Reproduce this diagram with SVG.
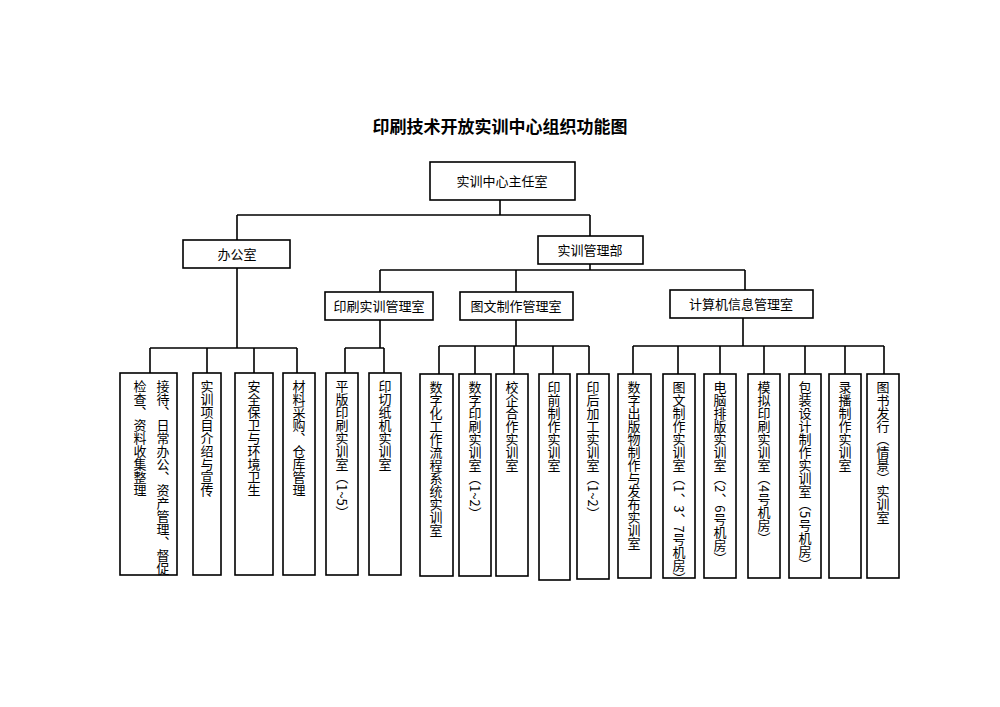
<svg xmlns="http://www.w3.org/2000/svg" width="1000" height="707" viewBox="0 0 1000 707">
<style>
rect{fill:#fff;stroke:#000;stroke-width:1.6}
.c path{fill:none;stroke:#000;stroke-width:1.6}
text{font-family:"Noto Sans CJK SC","Liberation Sans",sans-serif;font-size:13px;fill:#000}
.h{text-anchor:middle}
.v{writing-mode:vertical-rl;text-orientation:mixed}
.t{font-size:17px;font-weight:bold;text-anchor:middle}
</style>
<rect x="0" y="0" width="1000" height="707" style="stroke:none"/>
<text class="t" x="500" y="133">印刷技术开放实训中心组织功能图</text>
<g class="c">
<path d="M500 200V215M237 215H590M237 215V240M590 215V236"/>
<path d="M590 264V270M380 270H745M380 270V292M516 270V292M745 270V290"/>
<path d="M237 268V348M150 348H297M150 348V373M207 348V373M254 348V373M297 348V373"/>
<path d="M380 320V348M345 348H384M345 348V373M384 348V373"/>
<path d="M516 320V346M439 346H589M439 346V374M475 346V374M514 346V374M553 346V374M589 346V374"/>
<path d="M743 318V346M633 346H884M633 346V374M678 346V374M720 346V374M764 346V374M805 346V374M845 346V374M884 346V374"/>
</g>
<g id="n0"><rect x="430" y="162" width="145" height="38"/><text class="h" x="502" y="186">实训中心主任室</text></g>
<g id="n1"><rect x="183" y="240" width="107" height="28"/><text class="h" x="237" y="259">办公室</text></g>
<g id="n2"><rect x="538" y="236" width="105" height="28"/><text class="h" x="590" y="255">实训管理部</text></g>
<g id="n3"><rect x="325" y="292" width="108" height="28"/><text class="h" x="379" y="311">印刷实训管理室</text></g>
<g id="n4"><rect x="460" y="292" width="113" height="28"/><text class="h" x="516" y="311">图文制作管理室</text></g>
<g id="n5"><rect x="670" y="290" width="143" height="28"/><text class="h" x="741" y="309">计算机信息管理室</text></g>
<g id="l1"><rect x="120" y="373" width="57" height="202"/><text class="v" x="163" y="380">接待、日常办公、资产管理、督促</text><text class="v" x="140" y="380">检查、资料收集整理</text></g>
<g id="l2"><rect x="193" y="373" width="28" height="202"/><text class="v" x="207" y="380">实训项目介绍与宣传</text></g>
<g id="l3"><rect x="235" y="373" width="38" height="202"/><text class="v" x="254" y="380">安全保卫与环境卫生</text></g>
<g id="l4"><rect x="283" y="373" width="32" height="202"/><text class="v" x="299" y="380">材料采购、仓库管理</text></g>
<g id="l5"><rect x="326" y="373" width="32" height="202"/><text class="v" x="342" y="380">平版印刷实训室（1~5）</text></g>
<g id="l6"><rect x="369" y="373" width="32" height="202"/><text class="v" x="385" y="380">印切纸机实训室</text></g>
<g id="l7"><rect x="420" y="374" width="33" height="202"/><text class="v" x="436" y="381">数字化工作流程系统实训室</text></g>
<g id="l8"><rect x="459" y="374" width="32" height="202"/><text class="v" x="475" y="381">数字印刷实训室（1~2）</text></g>
<g id="l9"><rect x="496" y="374" width="32" height="202"/><text class="v" x="512" y="381">校企合作实训室</text></g>
<g id="l10"><rect x="539" y="374" width="31" height="206"/><text class="v" x="554" y="381">印前制作实训室</text></g>
<g id="l11"><rect x="577" y="374" width="32" height="205"/><text class="v" x="593" y="381">印后加工实训室（1~2）</text></g>
<g id="l12"><rect x="618" y="374" width="33" height="204"/><text class="v" x="634" y="381">数字出版物制作与发布实训室</text></g>
<g id="l13"><rect x="663" y="374" width="32" height="204"/><text class="v" x="679" y="381">图文制作实训室（1、3、7号机房）</text></g>
<g id="l14"><rect x="704" y="374" width="32" height="204"/><text class="v" x="720" y="381">电脑排版实训室（2、6号机房）</text></g>
<g id="l15"><rect x="748" y="374" width="32" height="204"/><text class="v" x="764" y="381">模拟印刷实训室（4号机房）</text></g>
<g id="l16"><rect x="789" y="374" width="32" height="204"/><text class="v" x="805" y="381">包装设计制作实训室（5号机房）</text></g>
<g id="l17"><rect x="829" y="374" width="32" height="204"/><text class="v" x="845" y="381">录播制作实训室</text></g>
<g id="l18"><rect x="867" y="374" width="32" height="204"/><text class="v" x="883" y="381">图书发行（情景）实训室</text></g>
</svg>
